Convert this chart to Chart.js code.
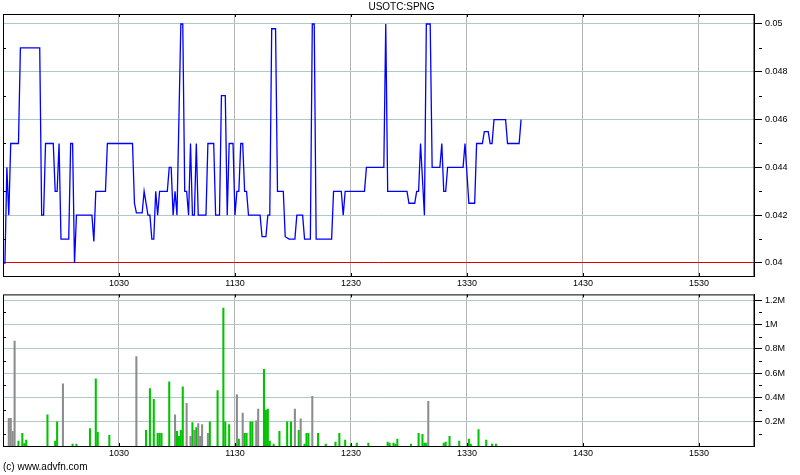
<!DOCTYPE html>
<html>
<head>
<meta charset="utf-8">
<title>USOTC:SPNG</title>
<script src="https://cdn.jsdelivr.net/npm/chart.js@4.4.1/dist/chart.umd.min.js"></script>
<style>
    body { margin: 0; background: #fff; width: 800px; height: 475px; position: relative; overflow: hidden; }
    #priceBox { position: absolute; left: 0; top: 0; width: 800px; height: 290px; }
    #volumeBox { position: absolute; left: 0; top: 286px; width: 800px; height: 189px; }
    #credit { position: absolute; left: 3px; top: 461px; font: 10px 'Liberation Sans', Arial, sans-serif; color: #000; }
</style>
</head>
<body>
<div id="priceBox"><canvas id="priceChart" width="800" height="290"></canvas></div>
<div id="volumeBox"><canvas id="volumeChart" width="800" height="189"></canvas></div>
<div id="credit">(c) www.advfn.com</div>

<script>
// --- data (minutes after 09:30) ---
const symbol = 'USOTC:SPNG';
const timeLabels = ['1030', '1130', '1230', '1330', '1430', '1530'];
const priceTicks = [0.04, 0.042, 0.044, 0.046, 0.048, 0.05];
const volumeTicks = [200000, 400000, 600000, 800000, 1000000, 1200000];
const refPrice = 0.04; // red line

const priceMinutes = [
    0, 1, 2, 3, 4, 8, 9, 19, 20, 21, 22, 26, 27, 28, 29, 30, 34, 35, 36, 37, 38, 46, 47, 48, 53, 54, 67,
    68, 69, 72, 73, 75, 76, 77, 78, 79, 80, 81, 85, 86, 87, 88, 89, 90, 92, 93, 94, 95, 96, 97, 98, 99,
    100, 101, 105, 106, 109, 110, 112, 113, 115, 116, 117, 119, 120, 121, 122, 123, 124, 125, 126, 127, 133,
    134, 136, 137, 138, 139, 141, 142, 145, 146, 148, 151, 152, 155, 156, 159, 160, 161, 162, 170, 171,
    175, 176, 177, 187, 188, 197, 198, 199,
    209, 210, 213, 214, 215, 216, 218, 219, 221, 222, 226, 227, 228, 229, 230, 238, 239, 241, 244, 245,
    248, 249, 251, 252, 253, 254, 260, 261, 267, 268
];
const priceValues = [
    0.040, 0.040, 0.044, 0.042, 0.045, 0.045, 0.049, 0.049, 0.042, 0.042, 0.045, 0.045, 0.043, 0.043, 0.045, 0.041, 0.041, 0.045, 0.045, 0.040, 0.042, 0.042, 0.0409, 0.043, 0.043, 0.045, 0.045,
    0.0425, 0.0421, 0.0421, 0.043, 0.042, 0.042, 0.041, 0.041, 0.043, 0.042, 0.043, 0.043, 0.044, 0.044, 0.042, 0.043, 0.042, 0.05, 0.05, 0.043, 0.043, 0.042, 0.045, 0.042, 0.042,
    0.045, 0.042, 0.042, 0.045, 0.045, 0.042, 0.042, 0.047, 0.047, 0.042, 0.045, 0.045, 0.042, 0.043, 0.043, 0.045, 0.045, 0.043, 0.043, 0.042, 0.042,
    0.0411, 0.0411, 0.042, 0.042, 0.0498, 0.0498, 0.043, 0.043, 0.0411, 0.041, 0.041, 0.042, 0.042, 0.041, 0.041, 0.05, 0.05, 0.041, 0.041, 0.043,
    0.043, 0.042, 0.043, 0.043, 0.044, 0.044, 0.05, 0.043,
    0.043, 0.0425, 0.0425, 0.043, 0.043, 0.045, 0.042, 0.05, 0.05, 0.044, 0.044, 0.045, 0.043, 0.043, 0.044, 0.044, 0.045, 0.0425, 0.0425, 0.045,
    0.045, 0.0455, 0.0455, 0.045, 0.045, 0.046, 0.046, 0.045, 0.045, 0.046
];

const volumeMinutes = [
    3, 4, 5, 6, 8, 10, 11, 12, 23, 27, 28, 31, 36, 38, 45, 48, 49, 55,
    69, 74, 76, 78, 80, 81, 82, 86, 89, 90, 91, 92, 93, 95, 97, 98, 99, 100, 101, 102, 103,
    106, 107, 111, 114, 115, 117, 121, 122, 124, 125, 126, 128, 129, 131, 132, 135, 136, 137, 138, 140,
    143, 147, 149, 151, 153, 154, 156, 157, 158, 160, 163, 167, 172, 174, 177, 180, 183, 189,
    199, 200, 202, 203, 204, 211, 215, 217, 218, 219, 220, 228, 229, 231, 236, 241, 242, 246, 250, 253, 255
];
const volumeValues = [
    227000, 227000, 120000, 864000, 40000, 104000, 20000, 48000, 256000, 40000, 200000, 512000, 16000, 16000, 144000, 552000, 112000, 88000,
    736000, 128000, 472000, 384000, 104000, 104000, 104000, 528000, 256000, 120000, 80000, 128000, 488000, 352000, 80000, 192000, 128000, 152000, 184000, 80000, 176000,
    104000, 200000, 456000, 1136000, 200000, 176000, 424000, 56000, 272000, 104000, 104000, 200000, 200000, 208000, 304000, 632000, 296000, 304000, 40000, 16000,
    120000, 200000, 200000, 304000, 128000, 224000, 16000, 104000, 104000, 408000, 104000, 16000, 32000, 104000, 48000, 16000, 24000, 24000,
    32000, 24000, 24000, 16000, 56000, 16000, 104000, 96000, 24000, 24000, 368000, 24000, 32000, 80000, 40000, 56000, 16000, 136000, 48000, 16000, 16000
];
// trade side per bar: 'up' trades green, 'flat' trades grey
const volumeSide = [
    'flat', 'flat', 'flat', 'flat', 'up', 'up', 'up', 'up', 'up', 'up', 'up', 'flat', 'up', 'up', 'up', 'up', 'up', 'up',
    'flat', 'up', 'up', 'up', 'up', 'up', 'up', 'up', 'flat', 'up', 'up', 'up', 'up', 'flat', 'flat', 'up', 'flat', 'up', 'flat', 'flat', 'flat',
    'flat', 'up', 'up', 'up', 'up', 'up', 'flat', 'up', 'flat', 'up', 'up', 'up', 'up', 'flat', 'flat', 'up', 'up', 'up', 'up', 'up',
    'up', 'up', 'up', 'flat', 'up', 'flat', 'up', 'up', 'up', 'flat', 'up', 'up', 'up', 'up', 'up', 'up', 'up', 'up',
    'up', 'up', 'up', 'up', 'up', 'up', 'up', 'up', 'up', 'up', 'flat', 'up', 'up', 'up', 'up', 'up', 'up', 'up', 'up', 'up', 'up'
];

// session runs 09:30 -> 16:00, frame stops just short of the close
const SESSION_END = 388.5;
const TICK_FONT = { family: "'Liberation Sans', Arial, sans-serif", size: 9 };
const GRID_H = '#b0c8c8';
const GRID_V = '#b4b4b4';

function labelToMinutes(label) {
    const h = parseInt(label.slice(0, label.length - 2), 10);
    const m = parseInt(label.slice(-2), 10);
    return (h * 60 + m) - (9 * 60 + 30);
}
const tickMinutes = timeLabels.map(labelToMinutes);

function midpoints(arr) {
    return arr.slice(1).map((v, i) => (v + arr[i]) / 2);
}

// black frame round the plot plus the little inward/outward tick marks
const framePlugin = {
    id: 'frame',
    afterDraw(chart, args, opts) {
        const { ctx, chartArea: a } = chart;
        const xs = chart.scales.x;
        const ys = chart.scales.y;
        ctx.save();
        ctx.strokeStyle = '#000';
        ctx.lineWidth = 1;
        ctx.strokeRect(a.left + 0.5, a.top + 0.5, a.right - a.left - 0.5, a.bottom - a.top);
        ctx.beginPath();
        xs.ticks.forEach(t => {
            const px = Math.round(xs.getPixelForValue(t.value)) + 0.5;
            ctx.moveTo(px, a.top);
            ctx.lineTo(px, a.top + 3);
            ctx.moveTo(px, a.bottom);
            ctx.lineTo(px, a.bottom - 3);
        });
        (opts.minor || []).forEach(v => {
            const py = Math.round(ys.getPixelForValue(v)) + 0.5;
            ctx.moveTo(a.left, py);
            ctx.lineTo(a.left + 3, py);
            ctx.moveTo(a.right + 5, py);
            ctx.lineTo(a.right + 8, py);
        });
        ctx.stroke();
        ctx.restore();
    }
};

function timeAxis(height) {
    return {
        type: 'linear',
        position: 'bottom',
        min: 0,
        max: SESSION_END,
        offset: false,
        afterBuildTicks: scale => { scale.ticks = tickMinutes.map(v => ({ value: v })); },
        afterFit: scale => { scale.height = height; },
        ticks: {
            autoSkip: false,
            maxRotation: 0,
            padding: 2,
            color: '#000',
            font: TICK_FONT,
            callback: (v, i) => timeLabels[i]
        },
        grid: { color: GRID_V, drawTicks: false, offset: false },
        border: { display: true, color: '#000' }
    };
}

function valueAxis(min, max, ticks, fmt, redValue) {
    return {
        type: 'linear',
        position: 'right',
        min: min,
        max: max,
        afterBuildTicks: scale => { scale.ticks = ticks.map(v => ({ value: v })); },
        afterFit: scale => { scale.width = 46; },
        ticks: { padding: 3, color: '#000', font: TICK_FONT, callback: fmt },
        grid: {
            color: ctx => (ctx.tick && ctx.tick.value === redValue) ? '#e00000' : GRID_H,
            tickColor: '#000',
            tickLength: 8
        },
        border: { display: true, color: '#000' }
    };
}

function buildPriceChart() {
    const points = priceMinutes.map((m, i) => ({ x: m, y: priceValues[i] }));
    new Chart(document.getElementById('priceChart'), {
        type: 'line',
        data: {
            datasets: [{
                data: points,
                borderColor: '#0000ff',
                borderWidth: 1.3,
                pointRadius: 0,
                tension: 0,
                fill: false
            }]
        },
        options: {
            responsive: false,
            animation: false,
            devicePixelRatio: 1,
            layout: { padding: { left: 3, right: 0, top: 0, bottom: 0 } },
            plugins: {
                legend: { display: false },
                tooltip: { enabled: false },
                title: {
                    display: true,
                    text: symbol,
                    color: '#000',
                    font: { family: "'Liberation Sans', Arial, sans-serif", size: 10, weight: 'normal', lineHeight: 1.2 },
                    padding: { top: 1, bottom: 1 }
                },
                frame: { minor: midpoints(priceTicks) }
            },
            scales: {
                x: timeAxis(14),
                y: valueAxis(0.039456, 0.050418, priceTicks, v => String(Number(v.toFixed(3))), refPrice)
            }
        },
        plugins: [framePlugin]
    });
}

function buildVolumeChart() {
    const bars = volumeMinutes.map((m, i) => ({ x: m, y: volumeValues[i] }));
    const colors = volumeSide.map(s => s === 'up' ? '#00c400' : '#8c8c8c');
    new Chart(document.getElementById('volumeChart'), {
        type: 'bar',
        data: {
            datasets: [{
                data: bars,
                backgroundColor: colors,
                barThickness: 1.4,
                borderWidth: 0
            }]
        },
        options: {
            responsive: false,
            animation: false,
            devicePixelRatio: 1,
            layout: { padding: { left: 3, right: 0, top: 4, bottom: 0 } },
            plugins: {
                legend: { display: false },
                tooltip: { enabled: false },
                frame: { minor: [100000].concat(midpoints(volumeTicks)) }
            },
            scales: {
                x: timeAxis(29),
                y: valueAxis(0, 1248000, volumeTicks, v => String(Number((v / 1e6).toFixed(1))) + 'M', null)
            }
        },
        plugins: [framePlugin]
    });
}

document.addEventListener('DOMContentLoaded', () => {
    buildPriceChart();
    buildVolumeChart();
});
</script>
</body>
</html>
